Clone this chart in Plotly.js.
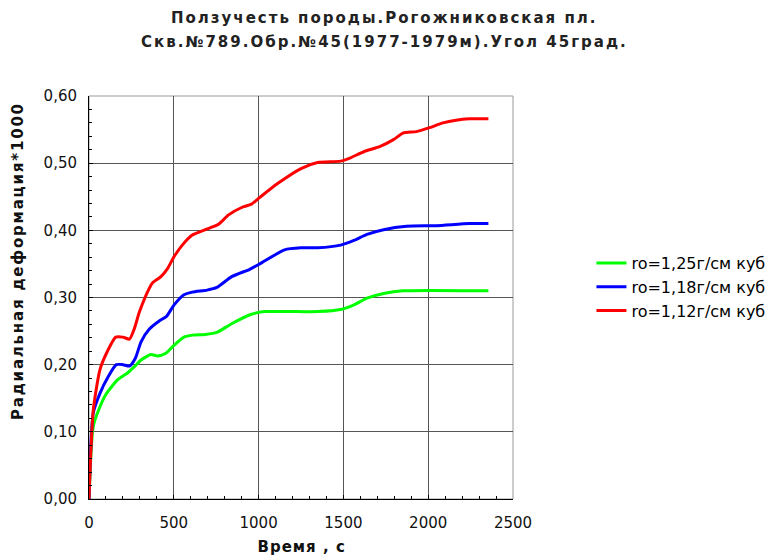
<!DOCTYPE html>
<html><head><meta charset="utf-8">
<script src="https://cdn.plot.ly/plotly-3.0.1.min.js"></script>
<style>body{margin:0;background:#fff}#c{width:783px;height:558px}</style>
</head><body><div id="c"></div>
<script>
const names = ['ro=1,25г/см куб', 'ro=1,18г/см куб', 'ro=1,12г/см куб'];
const colors = ['#00ff00', '#0000ff', '#ff0000'];
const titleLines = ['Ползучесть породы.Рогожниковская пл.', 'Скв.№789.Обр.№45(1977-1979м).Угол 45град.'];
const xTitle = 'Время , с';
const yTitle = 'Радиальная деформация*1000';

const tGreen = [0, 25, 64, 103, 171, 229, 268, 307, 365, 404, 453, 502, 560, 609, 686, 754, 841, 958, 1036, 1231, 1348, 1484, 1562, 1639, 1737, 1853, 2355];
const yGreen = [0, 0.108, 0.137, 0.157, 0.178, 0.188, 0.197, 0.207, 0.215, 0.213, 0.217, 0.229, 0.241, 0.244, 0.245, 0.248, 0.261, 0.275, 0.279, 0.279, 0.279, 0.282, 0.289, 0.299, 0.306, 0.310, 0.310];

const tBlue = [0, 25, 64, 113, 161, 200, 239, 274, 307, 356, 414, 457, 502, 560, 609, 696, 754, 841, 948, 1007, 1153, 1250, 1348, 1484, 1562, 1639, 1737, 1872, 2047, 2242, 2355];
const yBlue = [0, 0.128, 0.157, 0.182, 0.200, 0.200, 0.198, 0.210, 0.234, 0.253, 0.265, 0.272, 0.289, 0.304, 0.308, 0.311, 0.315, 0.331, 0.342, 0.350, 0.371, 0.374, 0.374, 0.378, 0.385, 0.394, 0.401, 0.406, 0.407, 0.410, 0.410];

const tRed = [0, 25, 64, 103, 158, 200, 239, 268, 298, 356, 375, 424, 463, 502, 550, 609, 686, 764, 823, 900, 958, 1007, 1114, 1250, 1348, 1484, 1542, 1620, 1717, 1795, 1853, 1931, 2009, 2087, 2164, 2242, 2355];
const yRed = [0, 0.132, 0.192, 0.217, 0.241, 0.241, 0.238, 0.254, 0.279, 0.314, 0.322, 0.331, 0.343, 0.361, 0.378, 0.393, 0.401, 0.409, 0.423, 0.434, 0.439, 0.449, 0.470, 0.492, 0.501, 0.503, 0.508, 0.517, 0.525, 0.535, 0.545, 0.547, 0.553, 0.560, 0.564, 0.566, 0.566];

const xs = [tGreen, tBlue, tRed];
const ys = [yGreen, yBlue, yRed];

const traces = names.map((n, i) => ({
  x: xs[i], y: ys[i], name: n, type: 'scatter', mode: 'lines',
  line: {color: colors[i], width: 3, shape: 'spline', smoothing: 0.6}
}));

const F = '"DejaVu Sans", "Liberation Sans", Arial, sans-serif';
const layout = {
  width: 783, height: 558,
  margin: {l: 89, r: 266, t: 96, b: 59},
  paper_bgcolor: '#fff', plot_bgcolor: '#fff',
  separators: ', ',
  font: {family: F, size: 15, color: '#000'},
  xaxis: {
    range: [0, 2500], dtick: 500, tick0: 0,
    showgrid: true, gridcolor: '#555', gridwidth: 1,
    showline: true, linecolor: '#000', linewidth: 1,
    ticks: 'inside', ticklen: 4, tickcolor: '#000',
    minor: {dtick: 100, ticks: 'inside', ticklen: 3, tickcolor: '#000', showgrid: false},
    zeroline: false, fixedrange: true, ticklabelstandoff: 10,
    tickfont: {family: F, size: 15, color: '#111'}
  },
  yaxis: {
    range: [0, 0.6], dtick: 0.1, tick0: 0, tickformat: '.2f',
    showgrid: true, gridcolor: '#555', gridwidth: 1,
    showline: true, linecolor: '#000', linewidth: 1,
    ticks: 'inside', ticklen: 4, tickcolor: '#000',
    minor: {dtick: 0.02, ticks: 'inside', ticklen: 3, tickcolor: '#000', showgrid: false},
    zeroline: false, fixedrange: true, ticklabelstandoff: 8,
    tickfont: {family: F, size: 15, color: '#111'}
  },
  annotations: [
    {text: '<b>' + titleLines[0] + '</b>', xref: 'paper', yref: 'paper', x: 0.697, y: (499 - 18) / 403,
     xanchor: 'center', yanchor: 'middle', showarrow: false, font: {family: F, size: 15, color: '#222'}},
    {text: '<b>' + titleLines[1] + '</b>', xref: 'paper', yref: 'paper', x: 0.697, y: (499 - 42) / 403,
     xanchor: 'center', yanchor: 'middle', showarrow: false, font: {family: F, size: 15, color: '#222'}},
    {text: '<b>' + xTitle + '</b>', xref: 'paper', yref: 'paper', x: 0.5, y: (499 - 547) / 403,
     xanchor: 'center', yanchor: 'middle', showarrow: false, font: {family: F, size: 15, color: '#111'}},
    {text: '<b>' + yTitle + '</b>', xref: 'paper', yref: 'paper', x: (17 - 89) / 428, y: (499 - 261) / 403,
     xanchor: 'center', yanchor: 'middle', textangle: -90, showarrow: false, font: {family: F, size: 15, color: '#111'}}
  ],
  shapes: [{type: 'rect', xref: 'paper', yref: 'paper', x0: 0, x1: 1, y0: 0, y1: 1,
            line: {color: '#999', width: 1}, layer: 'below'}],
  legend: {
    x: 1.185, xanchor: 'left', y: (499 - 287) / 403, yanchor: 'middle',
    font: {family: F, size: 16}, bgcolor: 'rgba(0,0,0,0)',
    tracegroupgap: 0, itemwidth: 30
  },
  showlegend: true
};

Plotly.newPlot('c', traces, layout, {displayModeBar: false, staticPlot: true}).then(gd => {
  const at = gd.querySelectorAll('.annotation-text');
  const spacing = ['2px', '2px', '1px', '1.8px'];
  at.forEach((el, i) => { if (spacing[i]) el.style.letterSpacing = spacing[i]; });
});
</script>
</body></html>
